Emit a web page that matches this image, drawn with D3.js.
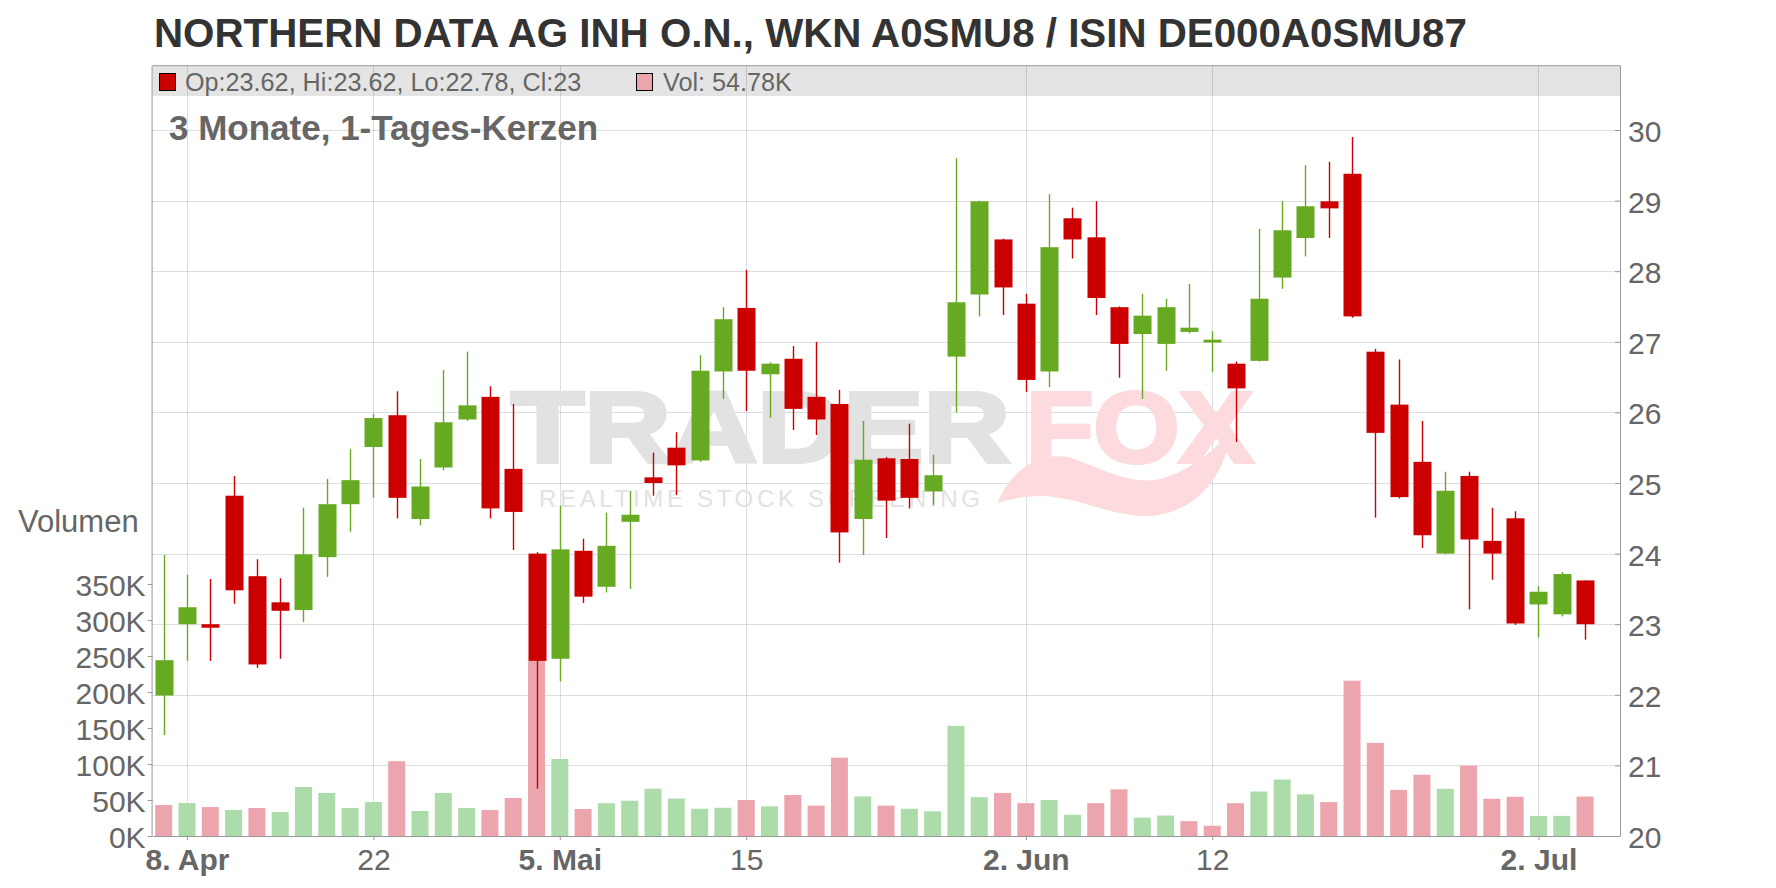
<!DOCTYPE html>
<html><head><meta charset="utf-8">
<script src="https://cdn.jsdelivr.net/npm/d3@7"></script>
<style>html,body{margin:0;padding:0;background:#fff;} svg{display:block;font-family:"Liberation Sans",Arial,sans-serif;}</style>
</head><body><svg id="chart" width="1776" height="888"></svg>
<script>
const titleText = "NORTHERN DATA AG INH O.N., WKN A0SMU8 / ISIN DE000A0SMU87";
const subtitleText = "3 Monate, 1-Tages-Kerzen";
const dates = [
"2025-04-07","2025-04-08","2025-04-09","2025-04-10","2025-04-11",
"2025-04-14","2025-04-15","2025-04-16","2025-04-17",
"2025-04-22","2025-04-23","2025-04-24","2025-04-25",
"2025-04-28","2025-04-29","2025-04-30","2025-05-02",
"2025-05-05","2025-05-06","2025-05-07","2025-05-08","2025-05-09",
"2025-05-12","2025-05-13","2025-05-14","2025-05-15","2025-05-16",
"2025-05-19","2025-05-20","2025-05-21","2025-05-22","2025-05-23",
"2025-05-26","2025-05-27","2025-05-28","2025-05-29","2025-05-30",
"2025-06-02","2025-06-03","2025-06-04","2025-06-05","2025-06-06",
"2025-06-09","2025-06-10","2025-06-11","2025-06-12","2025-06-13",
"2025-06-16","2025-06-17","2025-06-18","2025-06-19","2025-06-20",
"2025-06-23","2025-06-24","2025-06-25","2025-06-26","2025-06-27",
"2025-06-30","2025-07-01","2025-07-02","2025-07-03","2025-07-04"];
const opens = [21.99,23.00,23.00,24.82,23.68,23.31,23.20,23.95,24.70,25.51,25.96,24.49,25.22,25.90,26.22,25.20,24.00,22.51,24.04,23.53,24.45,25.08,25.50,25.32,26.58,27.48,26.54,26.76,26.22,26.12,24.49,25.35,25.34,24.88,26.79,27.67,28.45,27.54,26.58,28.75,28.48,27.49,27.11,26.97,27.14,26.99,26.69,26.73,27.91,28.47,28.99,29.38,26.86,26.11,25.30,24.00,25.10,24.18,24.50,23.28,23.14,23.62];
const highs = [23.98,23.70,23.64,25.10,23.92,23.65,24.65,25.06,25.48,25.98,26.30,25.34,26.60,26.86,26.37,26.12,24.02,24.68,24.21,24.58,24.89,25.43,25.72,26.81,27.49,28.02,26.71,26.94,27.00,26.32,25.88,25.37,25.84,25.40,29.60,29.00,28.46,27.68,29.09,28.90,28.99,27.50,27.68,27.61,27.82,27.15,26.72,28.60,28.99,29.50,29.55,29.90,26.90,26.75,25.88,25.16,25.16,24.65,24.60,23.54,23.74,23.62];
const lows = [21.43,22.48,22.48,23.29,22.38,22.51,23.03,23.67,24.31,24.79,24.50,24.40,25.18,25.88,24.50,24.05,20.67,22.19,23.30,23.45,23.50,24.82,24.83,25.30,26.19,26.02,25.92,25.75,25.68,23.87,23.98,24.22,24.64,24.69,26.00,27.36,27.38,26.29,26.36,28.18,27.38,26.49,26.19,26.59,27.12,26.57,25.58,26.72,27.75,28.21,28.47,27.34,24.51,24.78,24.08,23.99,23.21,23.63,22.99,22.81,23.11,22.78];
const closes = [22.49,23.24,22.95,23.48,22.43,23.19,23.99,24.70,25.04,25.92,24.79,24.95,25.86,26.10,24.64,24.59,22.48,24.06,23.39,24.11,24.55,25.00,25.25,26.59,27.32,26.59,26.69,26.05,25.90,24.30,25.33,24.75,24.79,25.11,27.56,28.99,27.77,26.46,28.34,28.45,27.62,26.97,27.37,27.49,27.20,27.03,26.34,27.61,28.58,28.92,28.89,27.36,25.71,24.80,24.26,24.89,24.20,24.00,23.01,23.46,23.71,23.00];
const volumes = [43000,45800,40200,36100,38900,33300,68000,59700,38900,47300,103900,34700,59700,38900,36100,52800,243000,106900,37500,45600,49000,65700,52000,37800,39200,50000,41200,56900,42200,108800,54900,42200,37800,34300,153000,53900,59800,45600,50000,29400,45600,64700,25500,28400,20600,14200,45600,61800,78400,57900,47100,215700,129400,64100,85100,65600,97700,51700,54400,27900,27900,54780];
const volumeUp = [0,1,0,1,0,1,1,1,1,1,0,1,1,1,0,0,0,1,0,1,1,1,1,1,1,0,1,0,0,0,1,0,1,1,1,1,0,0,1,1,0,0,1,1,0,0,0,1,1,1,0,0,0,0,0,1,0,0,0,1,1,0];
const xTickDates = ["2025-04-08","2025-04-22","2025-05-05","2025-05-15","2025-06-02","2025-06-12","2025-07-02"];
const xTickLabels = ["8. Apr","22","5. Mai","15","2. Jun","12","2. Jul"];
const xTickBold = [true,false,true,false,true,false,true];
const priceTicks = [20,21,22,23,24,25,26,27,28,29,30];
const volumeTicks = [0,50000,100000,150000,200000,250000,300000,350000];

const RED = "#cc0000", GREEN = "#66aa22", VRED = "#eda5ad", VGREEN = "#acdcaa";
const FONT = '"Liberation Sans",Arial,sans-serif';
const svg = d3.select("#chart");
const L = 152.6, R = 1620, T = 65.7, B = 836, LEG_B = 96;

const x = d3.scaleLinear().domain([-0.476, 62.5]).range([L, R]);
const y = d3.scaleLinear().domain([20, 30]).range([B, 130]);
const yv = d3.scaleLinear().domain([0, 1000000]).range([B, 116]);
const idx = d => dates.indexOf(d);

// title
svg.append("text").attr("x", 154).attr("y", 47).attr("font-size", 40.3).attr("font-weight", "bold")
  .attr("fill", "#333").text(titleText);

// legend bar
svg.append("rect").attr("x", L).attr("y", T).attr("width", R - L).attr("height", LEG_B - T).attr("fill", "#e4e4e4");

// grid
const grid = svg.append("g").attr("stroke", "#000").attr("stroke-opacity", 0.13).attr("stroke-width", 1);
grid.selectAll("line.h").data(priceTicks).join("line").attr("class","h")
  .attr("x1", L).attr("x2", R).attr("y1", d => Math.round(y(d)) + 0.5).attr("y2", d => Math.round(y(d)) + 0.5);
grid.selectAll("line.v").data(xTickDates).join("line").attr("class","v")
  .attr("y1", T).attr("y2", B).attr("x1", d => Math.round(x(idx(d))) + 0.5).attr("x2", d => Math.round(x(idx(d))) + 0.5);

svg.append("line").attr("x1", L).attr("x2", R).attr("y1", T).attr("y2", T).attr("stroke", "#999");

// legend
const last = dates.length - 1;
svg.append("rect").attr("x", 159.5).attr("y", 73.5).attr("width", 16).attr("height", 17).attr("fill", RED).attr("stroke", "#000");
svg.append("text").attr("x", 185).attr("y", 91).attr("font-size", 25.2).attr("fill", "#666")
  .text(`Op:${opens[last]}, Hi:${highs[last]}, Lo:${lows[last]}, Cl:${closes[last]}`);
svg.append("rect").attr("x", 636.5).attr("y", 73.5).attr("width", 16).attr("height", 17).attr("fill", VRED).attr("stroke", "#000");
svg.append("text").attr("x", 663).attr("y", 91).attr("font-size", 25.2).attr("fill", "#666")
  .text(`Vol: ${volumes[last] / 1000}K`);

// subtitle
svg.append("text").attr("x", 169).attr("y", 140).attr("font-size", 35).attr("font-weight", "bold")
  .attr("fill", "#666").text(subtitleText);

// watermark
svg.append("path")
  .attr("d", "M998,503 C1008,474 1036,452 1068,457 C1098,466 1128,486 1160,479 C1190,471 1212,452 1230,433 C1226,472 1200,512 1150,516 C1110,517 1080,497 1042,496 C1022,496 1006,500 998,503 Z")
  .attr("fill", "#fcdadd");
const wm = svg.append("text").attr("font-weight", "bold");
wm.append("tspan").attr("x", 511).attr("y", 462).attr("font-size", 100).attr("fill", "#e2e2e2")
  .attr("stroke", "#e2e2e2").attr("stroke-width", 4)
  .attr("textLength", 499).attr("lengthAdjust", "spacingAndGlyphs").text("TRADER");
wm.append("tspan").attr("x", 1026).attr("y", 462).attr("font-size", 100).attr("fill", "#fcdadd")
  .attr("stroke", "#fcdadd").attr("stroke-width", 4)
  .attr("textLength", 227).attr("lengthAdjust", "spacingAndGlyphs").text("FOX");
svg.append("text").attr("x", 539).attr("y", 507).attr("font-size", 24).attr("fill", "#e2e2e2")
  .attr("textLength", 441).attr("lengthAdjust", "spacing").text("REALTIME STOCK SCREENING");

// volume bars
svg.append("g").selectAll("rect").data(volumes).join("rect")
  .attr("x", (d, i) => x(i) - 8.5).attr("width", 17)
  .attr("y", d => yv(d)).attr("height", d => B - yv(d))
  .attr("fill", (d, i) => volumeUp[i] ? VGREEN : VRED);

// candles
const c = svg.append("g").selectAll("g").data(dates).join("g");
c.append("line").attr("x1", (d, i) => Math.round(x(i)) + 0.5).attr("x2", (d, i) => Math.round(x(i)) + 0.5)
  .attr("y1", (d, i) => y(highs[i])).attr("y2", (d, i) => y(lows[i]))
  .attr("stroke", (d, i) => closes[i] >= opens[i] ? GREEN : RED).attr("stroke-width", 1.4);
c.append("rect").attr("x", (d, i) => Math.round(x(i)) + 0.5 - 9).attr("width", 18)
  .attr("y", (d, i) => y(Math.max(opens[i], closes[i])))
  .attr("height", (d, i) => Math.max(2, Math.abs(y(opens[i]) - y(closes[i]))))
  .attr("fill", (d, i) => closes[i] >= opens[i] ? GREEN : RED);

// axes
function styleAxis(g) {
  g.selectAll(".domain").attr("stroke", "#999");
  g.selectAll(".tick line").attr("stroke", "#999");
  g.selectAll(".tick text").attr("fill", "#666").attr("font-size", 30).attr("font-family", FONT);
}
const ax = svg.append("g").attr("transform", `translate(0,${B})`)
  .call(d3.axisBottom(x).tickValues(xTickDates.map(idx)).tickFormat((d, i) => xTickLabels[i]).tickSize(4).tickPadding(9).tickSizeOuter(0))
  .call(styleAxis);
ax.selectAll(".tick text").attr("font-weight", (d, i) => xTickBold[i] ? "bold" : "normal");

svg.append("g").attr("transform", `translate(${R},0)`)
  .call(d3.axisRight(y).tickValues(priceTicks).tickSizeInner(-5).tickSizeOuter(0).tickPadding(8))
  .call(styleAxis)
  .call(g => g.selectAll(".tick text").attr("dy", "0.38em"))
  .call(g => g.select(".domain").attr("d", `M0.5,${T}V${B}`));

svg.append("g").attr("transform", `translate(${L},0)`)
  .call(d3.axisLeft(yv).tickValues(volumeTicks).tickFormat(d => d / 1000 + "K").tickSize(5).tickPadding(2).tickSizeOuter(0))
  .call(styleAxis)
  .call(g => g.selectAll(".tick text").attr("dy", "0.38em"))
  .call(g => g.select(".domain").attr("d", `M-0.5,${T}V${B}`));

svg.append("text").attr("x", 18).attr("y", 532).attr("font-size", 31).attr("fill", "#666").text("Volumen");
</script></body></html>
